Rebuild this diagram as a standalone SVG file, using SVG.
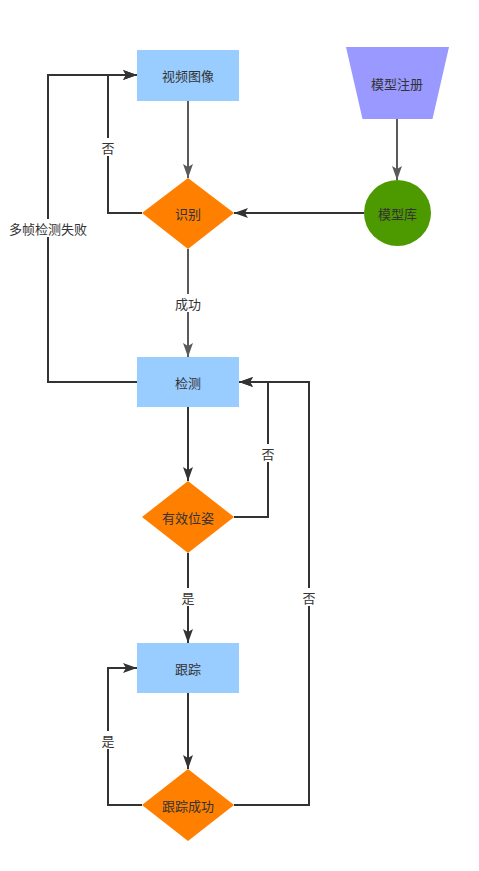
<svg xmlns="http://www.w3.org/2000/svg" width="479" height="871" viewBox="0 0 479 871">
<defs>
<marker id="ad" viewBox="0 0 14 10" refX="14" refY="5" markerWidth="14" markerHeight="10" markerUnits="userSpaceOnUse" orient="auto">
<path d="M0,0 L14,5 L0,10 L3,5 z" fill="#333"/>
</marker>
<marker id="ag" viewBox="0 0 14 10" refX="14" refY="5" markerWidth="14" markerHeight="10" markerUnits="userSpaceOnUse" orient="auto">
<path d="M0,0 L14,5 L0,10 L3,5 z" fill="#5a5a5a"/>
</marker>
</defs>
<style>
.t{font-family:"Noto Sans CJK SC","Liberation Sans",sans-serif;font-size:13px;fill:#333;text-anchor:middle;dominant-baseline:central}
.rect{fill:#99CCFF}
.dia{fill:#FF8000}
.d{fill:none;stroke:#333;stroke-width:2;marker-end:url(#ad)}
.g{fill:none;stroke:#5a5a5a;stroke-width:2;marker-end:url(#ag)}
.lb{fill:#fff}
</style>
<rect width="479" height="871" fill="#fff"/>
<g id="connectors">
<path class="g" d="M188,101 L188,178"/>
<path class="g" d="M397,119 L397,180"/>
<path class="d" d="M364,213 L234,213"/>
<path class="d" d="M142,213 L108,213 L108,75 L137,75"/>
<path class="d" d="M137,382 L48,382 L48,75 L137,75"/>
<path class="g" d="M188,249 L188,357"/>
<path class="d" d="M188,407 L188,481"/>
<path class="d" d="M234,517 L268,517 L268,382 L239,382"/>
<path class="d" d="M188,553 L188,643"/>
<path class="d" d="M188,693 L188,769"/>
<path class="d" d="M142,805 L108,805 L108,668 L137,668"/>
<path class="d" d="M234,805 L309,805 L309,382 L239,382"/>
<rect class="lb" x="100" y="138" width="16" height="18"/>
<text class="t" x="108" y="147">否</text>
<rect class="lb" x="9" y="219" width="78" height="18"/>
<text class="t" x="48" y="228">多帧检测失败</text>
<rect class="lb" x="174" y="294" width="28" height="18"/>
<text class="t" x="188" y="303">成功</text>
<rect class="lb" x="260" y="444" width="16" height="18"/>
<text class="t" x="268" y="453">否</text>
<rect class="lb" x="180" y="588" width="16" height="18"/>
<text class="t" x="188" y="597">是</text>
<rect class="lb" x="301" y="588" width="16" height="18"/>
<text class="t" x="309" y="597">否</text>
<rect class="lb" x="100" y="731" width="16" height="18"/>
<text class="t" x="108" y="740">是</text>
</g>
<g id="n-video">
<rect class="rect" x="137" y="50" width="102" height="51"/>
<text class="t" x="188" y="75.5">视频图像</text>
</g>
<g id="n-register">
<path d="M346,47 L449,47 L432.5,119 L362.5,119 Z" fill="#9999FF"/>
<text class="t" x="397" y="83">模型注册</text>
</g>
<g id="n-recog">
<path class="dia" d="M188,178 L234,213 L188,249 L142,213 Z"/>
<text class="t" x="188" y="213">识别</text>
</g>
<g id="n-lib">
<ellipse cx="397.5" cy="213" rx="33.5" ry="33" fill="#4D9900"/>
<text class="t" x="397.5" y="213">模型库</text>
</g>
<g id="n-detect">
<rect class="rect" x="137" y="357" width="102" height="50"/>
<text class="t" x="188" y="382">检测</text>
</g>
<g id="n-pose">
<path class="dia" d="M188,481 L234,517 L188,553 L142,517 Z"/>
<text class="t" x="188" y="517">有效位姿</text>
</g>
<g id="n-track">
<rect class="rect" x="137" y="643" width="102" height="50"/>
<text class="t" x="188" y="668">跟踪</text>
</g>
<g id="n-tracksucc">
<path class="dia" d="M188,769 L234,805 L188,841 L142,805 Z"/>
<text class="t" x="188" y="805">跟踪成功</text>
</g>
</svg>
